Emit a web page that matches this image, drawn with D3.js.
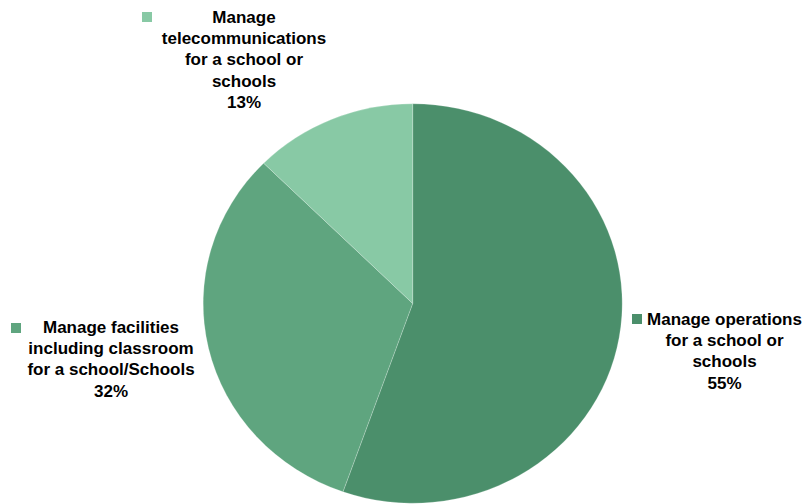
<!DOCTYPE html>
<html><head><meta charset="utf-8">
<script src="https://cdn.jsdelivr.net/npm/d3@7/dist/d3.min.js"></script>
<style>body{margin:0;background:#fff}svg{display:block}text{font-family:"Liberation Sans",Arial,sans-serif;font-weight:bold;font-size:17px;fill:#000}</style>
</head><body>
<svg id="c" width="803" height="504"></svg>
<script>
const categories = ["Manage operations for a school or schools", "Manage facilities including classroom for a school/Schools", "Manage telecommunications for a school or schools"];
const values = [55.4, 32.0, 12.6];
const colors = ["#4b8f6b", "#5fa57f", "#88c9a5"];
const labelLines = [
  ["Manage operations", "for a school or", "schools"],
  ["Manage facilities", "including classroom", "for a school/Schools"],
  ["Manage", "telecommunications", "for a school or", "schools"]
];

const W = 803, H = 504;
const cx = 412.7, cy = 303.5, ry = 199.7, rx = 209.5;
const svg = d3.select("#c");
const pie = d3.pie().sort(null).value(d => d)(values);
const arc = d3.arc().innerRadius(0).outerRadius(ry);
const g = svg.append("g").attr("transform", `translate(${cx},${cy}) scale(${rx/ry},1)`);
g.selectAll("path").data(pie).join("path")
  .attr("d", arc)
  .attr("fill", (d,i) => colors[i])
  .attr("stroke", "#ffffff").attr("stroke-opacity", 0.35).attr("stroke-width", 0.6);

// label positions (center x, first baseline y, key x, key y)
const labelPos = [
  {x: 724.5, y: 324.5, kx: 632, ky: 314},
  {x: 111, y: 332.5, kx: 11, ky: 323},
  {x: 244, y: 22.5, kx: 142, ky: 12}
];
const lh = 21.4;
labelLines.forEach((lines, i) => {
  const p = labelPos[i];
  svg.append("rect").attr("x", p.kx).attr("y", p.ky).attr("width", 10).attr("height", 10).attr("fill", colors[i]);
  const t = svg.append("text").attr("text-anchor", "middle");
  const all = lines.concat([Math.round(values[i]) + "%"]);
  all.forEach((l, j) => t.append("tspan").attr("x", p.x).attr("y", p.y + j*lh).text(l));
});
</script>
</body></html>
